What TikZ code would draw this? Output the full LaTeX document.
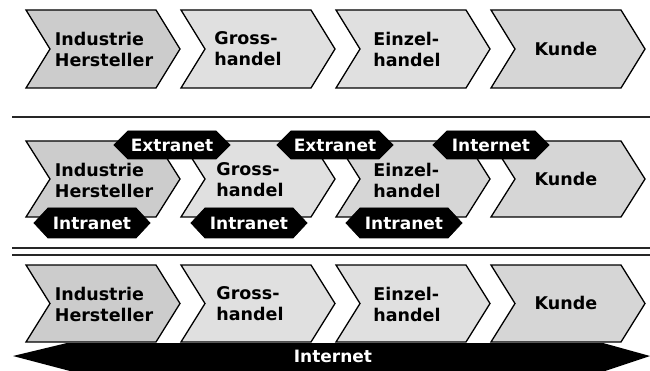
\documentclass[tikz,border=0pt]{standalone}
\usepackage{fontspec}
\setmainfont{DejaVu Sans}
\begin{document}
\begin{tikzpicture}[x=1pt,y=-1pt,
  chevbox/.style={draw=black,line width=1.3pt,line join=miter},
  chevtext/.style={font=\fontsize{17.5}{21}\selectfont\bfseries,align=left,text=black,inner sep=0pt},
  hexbox/.style={fill=black,draw=black,line width=0.8pt},
  hextext/.style={font=\fontsize{17}{20}\selectfont\bfseries,text=white,inner sep=0pt},
  rule/.style={line width=1.6pt,draw=black!85}]
\definecolor{stagedark}{gray}{0.80}
\definecolor{stagelight}{gray}{0.88}
\definecolor{stagemid}{gray}{0.84}
\useasboundingbox (0,0) rectangle (650,371);

% chevron: left x, top y, bottom y, fill
\newcommand\vkchev[4]{%
  \filldraw[chevbox,fill=#4] (#1,#2) -- (#1+130,#2) -- (#1+154,{(#2+#3)/2})
    -- (#1+130,#3) -- (#1,#3) -- (#1+24,{(#2+#3)/2}) -- cycle;}
% double pointed tag: centre x, centre y, width, height
\newcommand\vkhex[4]{%
  \filldraw[hexbox] (#1-#3/2,#2) -- (#1-#3/2+14,#2-#4/2) -- (#1+#3/2-14,#2-#4/2)
    -- (#1+#3/2,#2) -- (#1+#3/2-14,#2+#4/2) -- (#1-#3/2+14,#2+#4/2) -- cycle;}

% ---------- row 1: classic chain ----------
\vkchev{26}{10}{88}{stagedark}
\vkchev{181}{10}{88}{stagelight}
\vkchev{336}{10}{88}{stagelight}
\vkchev{491}{10}{88}{stagemid}
\node[chevtext] (ih1) at (104,49) {Industrie\\Hersteller};
\node[chevtext] (gh1) at (248,49) {Gross-\\handel};
\node[chevtext] (eh1) at (407,49) {Einzel-\\handel};
\node[chevtext] (ku1) at (566,49) {Kunde};

\draw[rule] (12,117) -- (650,117);

% ---------- row 2: intranet / extranet ----------
\vkchev{26}{141}{217}{stagedark}
\vkchev{181}{141}{217}{stagelight}
\vkchev{336}{141}{217}{stagemid}
\vkchev{491}{141}{217}{stagemid}
\node[chevtext] (ih2) at (104,180) {Industrie\\Hersteller};
\node[chevtext] (gh2) at (250,180) {Gross-\\handel};
\node[chevtext] (eh2) at (407,180) {Einzel-\\handel};
\node[chevtext] (ku2) at (566,179) {Kunde};

\vkhex{172}{145}{116}{28}
\vkhex{335}{145}{116}{28}
\vkhex{491}{145}{116}{28}
\node[hextext] (ex1) at (172,145) {Extranet};
\node[hextext] (ex2) at (335,145) {Extranet};
\node[hextext] (in2) at (491,145) {Internet};

\vkhex{92}{223}{116}{30}
\vkhex{249}{223}{116}{30}
\vkhex{404}{223}{116}{30}
\node[hextext] (ia1) at (92,223) {Intranet};
\node[hextext] (ia2) at (249,223) {Intranet};
\node[hextext] (ia3) at (404,223) {Intranet};

\draw[rule] (12,248) -- (650,248);
\draw[rule] (12,255) -- (650,255);

% ---------- row 3: common internet ----------
\vkchev{26}{265}{342}{stagedark}
\vkchev{181}{265}{342}{stagelight}
\vkchev{336}{265}{342}{stagelight}
\vkchev{491}{265}{342}{stagemid}
\node[chevtext] (ih3) at (104,304) {Industrie\\Hersteller};
\node[chevtext] (gh3) at (250,304) {Gross-\\handel};
\node[chevtext] (eh3) at (407,304) {Einzel-\\handel};
\node[chevtext] (ku3) at (566,303) {Kunde};

\fill[black] (13,356) -- (67,343) -- (603,343) -- (650,356) -- (605,371) -- (70,371) -- cycle;
\node[hextext] (net) at (333,356) {Internet};
\end{tikzpicture}
\end{document}
